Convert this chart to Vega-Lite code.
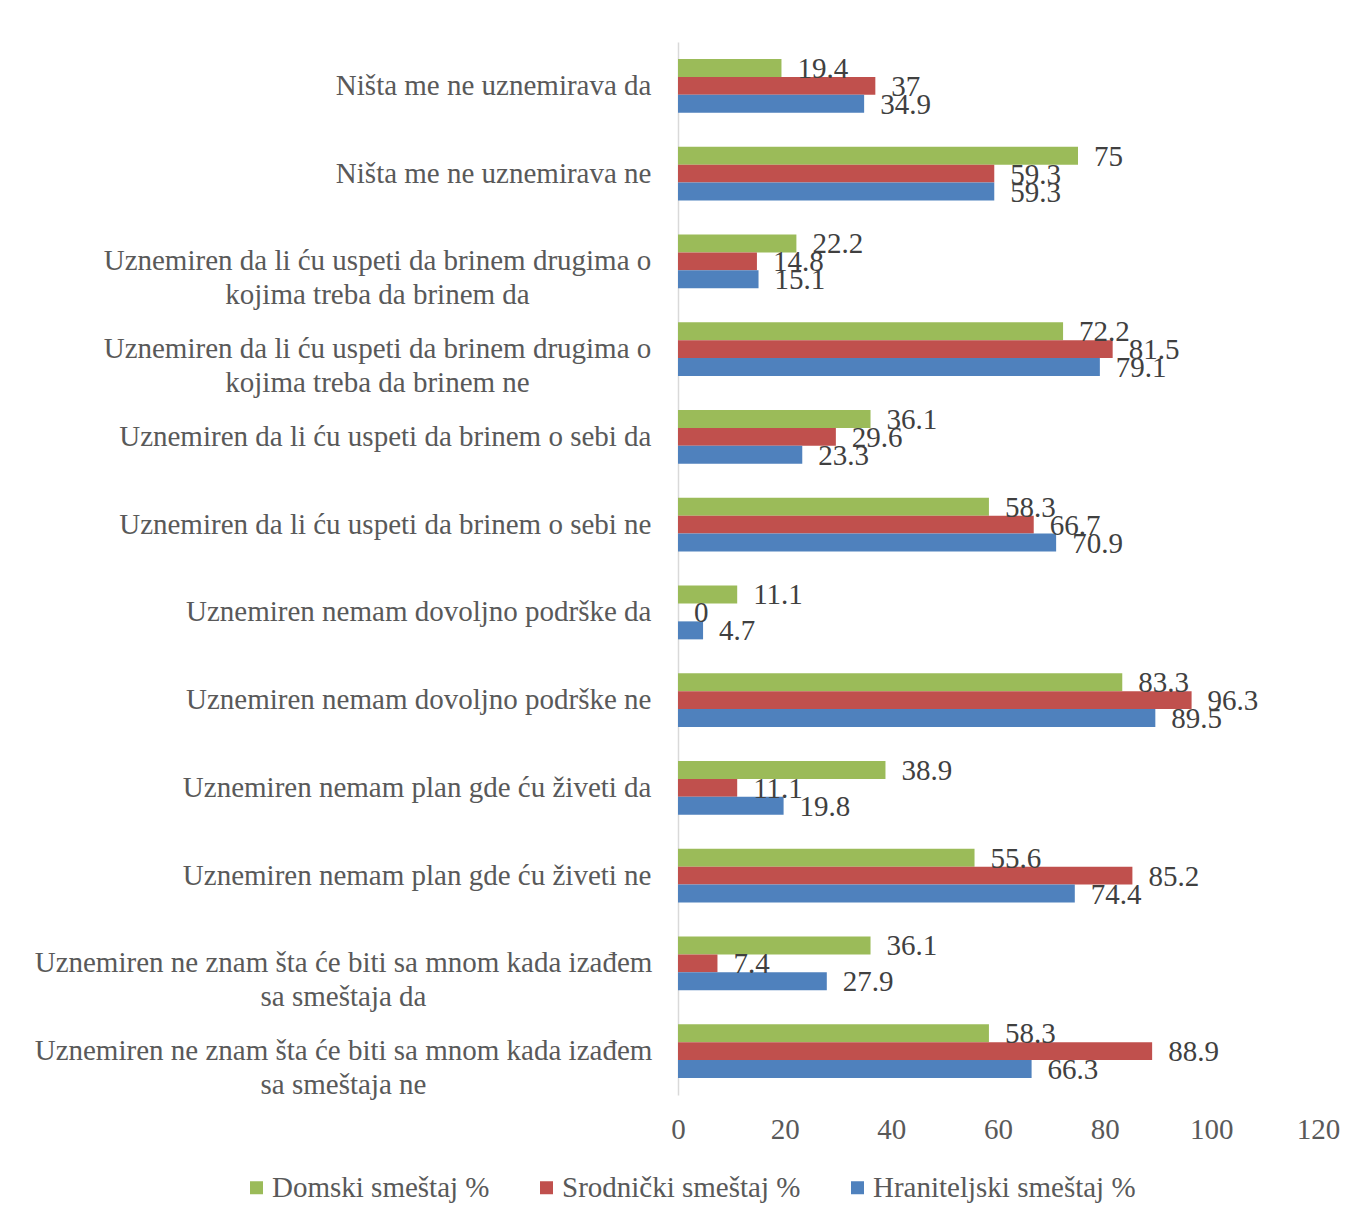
{
  "$schema": "https://vega.github.io/schema/vega-lite/v6.json",
  "width": 640,
  "height": 1053,
  "autosize": {"type": "none"},
  "padding": {"left": 678, "top": 42, "right": 43, "bottom": 125},
  "background": "white",
  "config": {
    "view": {"stroke": null},
    "font": "Liberation Serif"
  },
  "data": {
    "values": [
      {"cat": "Ništa me ne uznemirava da", "series": "Domski smeštaj %", "value": 19.4},
      {"cat": "Ništa me ne uznemirava da", "series": "Srodnički smeštaj %", "value": 37},
      {"cat": "Ništa me ne uznemirava da", "series": "Hraniteljski smeštaj %", "value": 34.9},
      {"cat": "Ništa me ne uznemirava ne", "series": "Domski smeštaj %", "value": 75},
      {"cat": "Ništa me ne uznemirava ne", "series": "Srodnički smeštaj %", "value": 59.3},
      {"cat": "Ništa me ne uznemirava ne", "series": "Hraniteljski smeštaj %", "value": 59.3},
      {"cat": "Uznemiren da li ću uspeti da brinem  drugima o\nkojima treba da brinem da", "series": "Domski smeštaj %", "value": 22.2},
      {"cat": "Uznemiren da li ću uspeti da brinem  drugima o\nkojima treba da brinem da", "series": "Srodnički smeštaj %", "value": 14.8},
      {"cat": "Uznemiren da li ću uspeti da brinem  drugima o\nkojima treba da brinem da", "series": "Hraniteljski smeštaj %", "value": 15.1},
      {"cat": "Uznemiren da li ću uspeti da brinem  drugima o\nkojima treba da brinem ne", "series": "Domski smeštaj %", "value": 72.2},
      {"cat": "Uznemiren da li ću uspeti da brinem  drugima o\nkojima treba da brinem ne", "series": "Srodnički smeštaj %", "value": 81.5},
      {"cat": "Uznemiren da li ću uspeti da brinem  drugima o\nkojima treba da brinem ne", "series": "Hraniteljski smeštaj %", "value": 79.1},
      {"cat": "Uznemiren da li ću uspeti da brinem o sebi da", "series": "Domski smeštaj %", "value": 36.1},
      {"cat": "Uznemiren da li ću uspeti da brinem o sebi da", "series": "Srodnički smeštaj %", "value": 29.6},
      {"cat": "Uznemiren da li ću uspeti da brinem o sebi da", "series": "Hraniteljski smeštaj %", "value": 23.3},
      {"cat": "Uznemiren da li ću uspeti da brinem o sebi ne", "series": "Domski smeštaj %", "value": 58.3},
      {"cat": "Uznemiren da li ću uspeti da brinem o sebi ne", "series": "Srodnički smeštaj %", "value": 66.7},
      {"cat": "Uznemiren da li ću uspeti da brinem o sebi ne", "series": "Hraniteljski smeštaj %", "value": 70.9},
      {"cat": "Uznemiren nemam dovoljno podrške da", "series": "Domski smeštaj %", "value": 11.1},
      {"cat": "Uznemiren nemam dovoljno podrške da", "series": "Srodnički smeštaj %", "value": 0},
      {"cat": "Uznemiren nemam dovoljno podrške da", "series": "Hraniteljski smeštaj %", "value": 4.7},
      {"cat": "Uznemiren nemam dovoljno podrške ne", "series": "Domski smeštaj %", "value": 83.3},
      {"cat": "Uznemiren nemam dovoljno podrške ne", "series": "Srodnički smeštaj %", "value": 96.3},
      {"cat": "Uznemiren nemam dovoljno podrške ne", "series": "Hraniteljski smeštaj %", "value": 89.5},
      {"cat": "Uznemiren nemam plan gde ću živeti da", "series": "Domski smeštaj %", "value": 38.9},
      {"cat": "Uznemiren nemam plan gde ću živeti da", "series": "Srodnički smeštaj %", "value": 11.1},
      {"cat": "Uznemiren nemam plan gde ću živeti da", "series": "Hraniteljski smeštaj %", "value": 19.8},
      {"cat": "Uznemiren nemam plan gde ću živeti ne", "series": "Domski smeštaj %", "value": 55.6},
      {"cat": "Uznemiren nemam plan gde ću živeti ne", "series": "Srodnički smeštaj %", "value": 85.2},
      {"cat": "Uznemiren nemam plan gde ću živeti ne", "series": "Hraniteljski smeštaj %", "value": 74.4},
      {"cat": "Uznemiren ne znam šta će biti sa mnom kada izađem\nsa smeštaja da", "series": "Domski smeštaj %", "value": 36.1},
      {"cat": "Uznemiren ne znam šta će biti sa mnom kada izađem\nsa smeštaja da", "series": "Srodnički smeštaj %", "value": 7.4},
      {"cat": "Uznemiren ne znam šta će biti sa mnom kada izađem\nsa smeštaja da", "series": "Hraniteljski smeštaj %", "value": 27.9},
      {"cat": "Uznemiren ne znam šta će biti sa mnom kada izađem\nsa smeštaja ne", "series": "Domski smeštaj %", "value": 58.3},
      {"cat": "Uznemiren ne znam šta će biti sa mnom kada izađem\nsa smeštaja ne", "series": "Srodnički smeštaj %", "value": 88.9},
      {"cat": "Uznemiren ne znam šta će biti sa mnom kada izađem\nsa smeštaja ne", "series": "Hraniteljski smeštaj %", "value": 66.3}
    ]
  },
  "encoding": {
    "y": {
      "field": "cat",
      "type": "nominal",
      "sort": null,
      "scale": {"paddingInner": 0.385, "paddingOuter": 0.1925},
      "axis": {
        "title": null,
        "labelExpr": "split(datum.label, '\\n')",
        "labelFont": "Liberation Serif",
        "labelFontSize": 29,
        "labelColor": "#595959",
        "labelLimit": 0,
        "labelLineHeight": 34,
        "labelAlign": {"condition": {"test": "indexof(datum.label, '\\n') >= 0", "value": "center"}, "value": "right"},
        "labelPadding": {"condition": [
          {"test": "indexof(datum.label, 'drugima') >= 0", "value": 301},
          {"test": "indexof(datum.label, 'izađem') >= 0", "value": 335}
        ], "value": 27},
        "ticks": false,
        "domain": true,
        "domainColor": "#d9d9d9",
        "domainWidth": 1.5
      }
    },
    "yOffset": {
      "field": "series",
      "type": "nominal",
      "sort": ["Domski smeštaj %", "Srodnički smeštaj %", "Hraniteljski smeštaj %"],
      "scale": {"paddingInner": 0, "paddingOuter": 0}
    },
    "x": {
      "field": "value",
      "type": "quantitative",
      "scale": {"domain": [0, 120], "nice": false},
      "axis": {
        "title": null,
        "values": [0, 20, 40, 60, 80, 100, 120],
        "grid": false,
        "domain": false,
        "ticks": false,
        "labelFont": "Liberation Serif",
        "labelFontSize": 29,
        "labelColor": "#595959",
        "labelPadding": 20,
        "labelFlush": false
      }
    }
  },
  "layer": [
    {
      "mark": {"type": "bar"},
      "encoding": {
        "color": {
          "field": "series",
          "type": "nominal",
          "sort": ["Domski smeštaj %", "Srodnički smeštaj %", "Hraniteljski smeštaj %"],
          "scale": {
            "domain": ["Domski smeštaj %", "Srodnički smeštaj %", "Hraniteljski smeštaj %"],
            "range": ["#9BBB59", "#C0504D", "#4F81BD"]
          },
          "legend": {
            "title": null,
            "orient": "none",
            "direction": "horizontal",
            "legendX": -436,
            "legendY": 1131,
            "symbolType": "square",
            "symbolSize": 169,
            "symbolStrokeWidth": 0,
            "labelFont": "Liberation Serif",
            "labelFontSize": 29,
            "labelColor": "#595959",
            "labelOffset": 1,
            "columnPadding": 42,
            "labelLimit": 0
          }
        }
      }
    },
    {
      "mark": {
        "type": "text",
        "align": "left",
        "baseline": "middle",
        "dx": 16,
        "dy": 1,
        "font": "Liberation Serif",
        "fontSize": 29,
        "color": "#404040"
      },
      "encoding": {
        "text": {"field": "value", "type": "quantitative"}
      }
    }
  ]
}
